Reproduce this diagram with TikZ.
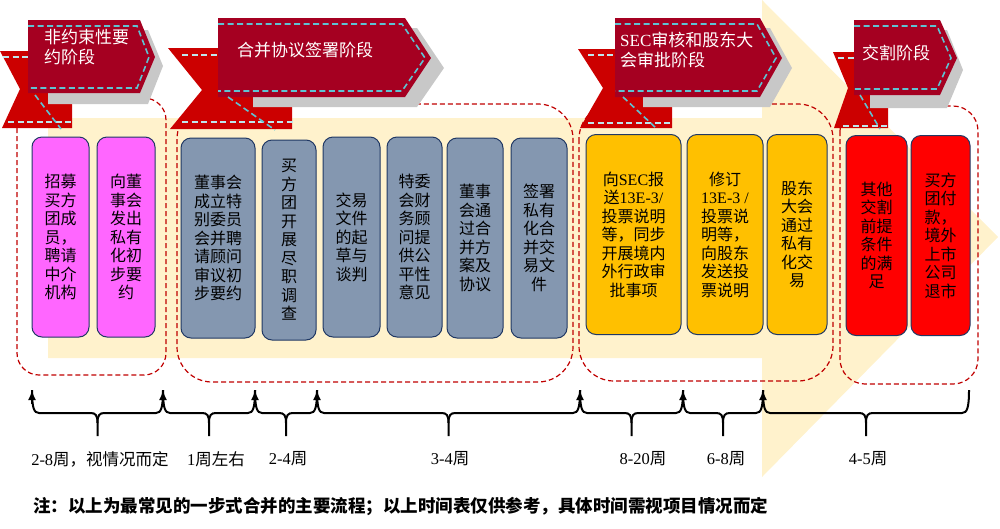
\documentclass[tikz,border=0pt]{standalone}
\usepackage{fontspec}
\setmainfont{Liberation Serif}
\newfontfamily\cjk{Noto Sans CJK SC}
\usepackage{tikz}
\usetikzlibrary{calc}
\usetikzlibrary{arrows.meta}
\definecolor{cream}{HTML}{FFF2CC}
\definecolor{crimson}{HTML}{A50021}
\definecolor{ribbonred}{HTML}{CC0000}
\definecolor{shadowgrey}{HTML}{C8C8C8}
\definecolor{stitchcyan}{HTML}{5EC3D2}
\definecolor{phasered}{HTML}{C00000}
\definecolor{cardedge}{HTML}{203864}
\definecolor{cardpink}{HTML}{FF66FF}
\definecolor{cardgrey}{HTML}{8497B0}
\definecolor{cardgold}{HTML}{FFC000}
\definecolor{cardred}{HTML}{FF0000}
\newcommand{\rmtxt}[1]{{\rmfamily #1}}
\tikzset{
    stage/.style = {fill=crimson},
    stageshadow/.style = {fill=shadowgrey},
    ribbon/.style = {fill=ribbonred},
    stitch/.style = {draw=stitchcyan, line width=1.6pt, dash pattern=on 6pt off 3.5pt},
    stitchpale/.style = {draw=stitchcyan!40!white, line width=1.6pt, dash pattern=on 6pt off 3.5pt},
    stagetext/.style = {text=white, anchor=west, align=left, inner sep=0pt, font=\cjk\fontsize{17}{20}\selectfont},
    phase/.style = {draw=phasered, line width=1.2pt, dash pattern=on 5pt off 3pt, rounded corners=#1},
    card/.style = {rectangle, rounded corners=10pt, draw=cardedge, line width=1pt, minimum height=200pt, inner sep=0pt, align=center, font=\cjk\fontsize{16}{18.5}\selectfont},
    cardp/.style = {card, fill=cardpink},
    cardg/.style = {card, fill=cardgrey},
    cardo/.style = {card, fill=cardgold},
    cardr/.style = {card, fill=cardred},
    weekline/.style = {line width=2pt, draw=black},
    weekarrow/.style = {-{Latex[length=10pt,width=8pt]}, line width=2pt},
    weektext/.style = {inner sep=0pt, font=\cjk\fontsize{16.5}{18}\selectfont},
    notetext/.style = {anchor=west, inner sep=0pt, font=\cjk\bfseries\fontsize{17.5}{20}\selectfont}
}
% brace between two ticks of the time line
\newcommand{\weekspan}[2]{%
  \draw[weekline] (#1) .. controls +(0,18) and +(-5,0) .. ($(#1)+(7,23)$)
    -- ($(#1)!0.5!(#2)+(-7,23)$) .. controls +(5,0) and +(0,-8) .. ($(#1)!0.5!(#2)+(0,33)$)
    -- ($(#1)!0.5!(#2)+(0,46)$);
  \draw[weekline] ($(#1)!0.5!(#2)+(0,33)$) .. controls +(0,-8) and +(-5,0) .. ($(#1)!0.5!(#2)+(7,23)$)
    -- ($(#2)+(-7,23)$) .. controls +(5,0) and +(0,18) .. (#2);
}

\begin{document}
\begin{tikzpicture}[x=1pt,y=-1pt]
\useasboundingbox (0,0) rectangle (1000,528);
%
\fill[cream] (48,118) -- (762,118) -- (762,0) -- (998,237) -- (762,477) -- (762,358) -- (48,358) -- cycle;
%
\draw[phase=22pt] (17,98) rectangle (166,375);
\draw[phase=35pt] (177,104) rectangle (573,382);
\draw[phase=35pt] (579,104) rectangle (833,381);
\draw[phase=25pt] (840,106) rectangle (978,384);
%
\node[cardp, minimum width=57pt] at (60.5,237) (b1) {招募\\买方\\团成\\员，\\聘请\\中介\\机构};
\node[cardp, minimum width=58pt] at (126,237) (b2) {向董\\事会\\发出\\私有\\化初\\步要\\约};
\node[cardg, minimum width=74pt] at (218,238) (b3) {董事会\\成立特\\别委员\\会并聘\\请顾问\\审议初\\步要约};
\node[cardg, minimum width=54pt] at (289,240) (b4) {买\\方\\团\\开\\展\\尽\\职\\调\\查};
\node[cardg, minimum width=57pt] at (351.5,237) (b5) {交易\\文件\\的起\\草与\\谈判};
\node[cardg, minimum width=55pt] at (414.5,237) (b6) {特委\\会财\\务顾\\问提\\供公\\平性\\意见};
\node[cardg, minimum width=56pt] at (475,238) (b7) {董事\\会通\\过合\\并方\\案及\\协议};
\node[cardg, minimum width=56pt] at (539,238) (b8) {签署\\私有\\化合\\并交\\易文\\件};
\node[cardo, minimum width=95pt] at (633.5,234.5) (b9) {向\rmtxt{SEC}报\\送\rmtxt{13E-3/}\\投票说明\\等，同步\\开展境内\\外行政审\\批事项};
\node[cardo, minimum width=76pt] at (725,234.5) (b10) {修订\\\rmtxt{13E-3 /}\\投票说\\明等，\\向股东\\发送投\\票说明};
\node[cardo, minimum width=60pt] at (797,234.5) (b11) {股东\\大会\\通过\\私有\\化交\\易};
\node[cardr, minimum width=61pt] at (876.5,235.5) (b12) {其他\\交割\\前提\\条件\\的满\\足};
\node[cardr, minimum width=59pt] at (940.5,235.5) (b13) {买方\\团付\\款，\\境外\\上市\\公司\\退市};
%
% stage 1
\fill[ribbon] (0,51) -- (72,51) -- (72,128) -- (2,128) -- (20,89) -- cycle;
\fill[stageshadow] (48,30) -- (148,30) -- (163,66) -- (148,104) -- (48,104) -- cycle;
\fill[stage] (28,20) -- (140,20) -- (155,57) -- (140,93) -- (28,93) -- cycle;
\draw[stitch] (28,26) -- (137,26) -- (149,57) -- (137,88) -- (28,88);
\draw[stitchpale] (3,57) -- (28,57) (8,122) -- (74,122);
\draw[stitch] (35,95) -- (61,129);
\node[stagetext] at (44,47) (s1) {非约束性要\\约阶段};
% stage 2
\fill[ribbon] (168,48) -- (292,48) -- (292,129) -- (170,129) -- (202,90) -- cycle;
\fill[stageshadow] (253,28) -- (417,28) -- (444,68) -- (417,107) -- (253,107) -- cycle;
\fill[stage] (218,18) -- (405,18) -- (431,58) -- (405,97) -- (218,97) -- cycle;
\draw[stitch] (218,24) -- (402,24) -- (425,58) -- (402,91) -- (218,91);
\draw[stitchpale] (182,55) -- (218,55) (182,122) -- (294,122);
\draw[stitch] (228,97) -- (275,130);
\node[stagetext] at (237,50) (s2) {合并协议签署阶段};
% stage 3
\fill[ribbon] (578,49) -- (672,49) -- (672,128) -- (580,128) -- (603,88) -- cycle;
\fill[stageshadow] (643,28) -- (770,28) -- (792,68) -- (770,107) -- (643,107) -- cycle;
\fill[stage] (615,18) -- (760,18) -- (782,58) -- (760,97) -- (615,97) -- cycle;
\draw[stitch] (615,24) -- (757,24) -- (776,58) -- (757,91) -- (615,91);
\draw[stitchpale] (588,55) -- (615,55) (588,123) -- (673,123);
\draw[stitch] (623,97) -- (657,129);
\node[stagetext] at (620,50) (s3) {\rmtxt{SEC}审核和股东大\\会审批阶段};
% stage 4
\fill[ribbon] (833,52) -- (888,52) -- (888,128) -- (834,128) -- (848,88) -- cycle;
\fill[stageshadow] (870,30) -- (947,30) -- (963,70) -- (947,108) -- (870,108) -- cycle;
\fill[stage] (854,20) -- (940,20) -- (957,58) -- (940,95) -- (854,95) -- cycle;
\draw[stitch] (854,26) -- (937,26) -- (951,58) -- (937,89) -- (854,89);
\draw[stitchpale] (838,58) -- (854,58) (843,126) -- (889,126);
\draw[stitch] (860,95) -- (880,129);
\node[stagetext] at (862,53) (s4) {交割阶段};
%
% time line
\coordinate (t0) at (32,390);
\coordinate (t1) at (163,390);
\coordinate (t2) at (255,390);
\coordinate (t3) at (317,390);
\coordinate (t4) at (580,390);
\coordinate (t5) at (683,390);
\coordinate (t6) at (763,390);
\coordinate (t7) at (969,390);
\weekspan{t0}{t1}
\weekspan{t1}{t2}
\weekspan{t2}{t3}
\weekspan{t3}{t4}
\weekspan{t4}{t5}
\weekspan{t5}{t6}
\weekspan{t6}{t7}
\draw[weekarrow] ($(t0)+(0,14)$) -- (t0);
\draw[weekarrow] ($(t1)+(0,14)$) -- (t1);
\draw[weekarrow] ($(t2)+(0,14)$) -- (t2);
\draw[weekarrow] ($(t3)+(0,14)$) -- (t3);
\draw[weekarrow] ($(t4)+(0,14)$) -- (t4);
\draw[weekarrow] ($(t5)+(0,14)$) -- (t5);
\draw[weekarrow] ($(t6)+(0,14)$) -- (t6);
%
\node[weektext] at (100,459) (w1) {\rmtxt{2-8}周，视情况而定};
\node[weektext] at (216,459) (w2) {\rmtxt{1}周左右};
\node[weektext] at (288,459) (w3) {\rmtxt{2-4}周};
\node[weektext] at (450,459) (w4) {\rmtxt{3-4}周};
\node[weektext] at (643,459) (w5) {\rmtxt{8-20}周};
\node[weektext] at (726,459) (w6) {\rmtxt{6-8}周};
\node[weektext] at (868,459) (w7) {\rmtxt{4-5}周};
%
\node[notetext] at (33,506) (note) {注：以上为最常见的一步式合并的主要流程；以上时间表仅供参考，具体时间需视项目情况而定};

\end{tikzpicture}
\end{document}
